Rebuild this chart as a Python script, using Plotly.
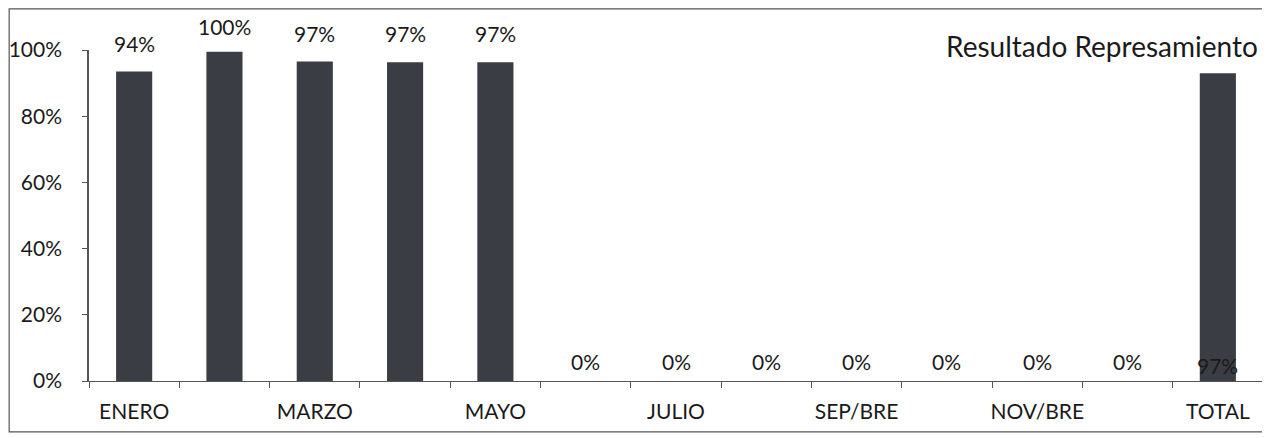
import plotly.graph_objects as go

categories = ["ENERO", "FEBRERO", "MARZO", "ABRIL", "MAYO", "JUNIO", "JULIO",
              "AGOSTO", "SEP/BRE", "OCT/BRE", "NOV/BRE", "DIC/BRE", "TOTAL"]
bar_heights = [93.5, 99.5, 96.5, 96.3, 96.3, 0, 0, 0, 0, 0, 0, 0, 93]
labels = ["94%", "100%", "97%", "97%", "97%", "0%", "0%", "0%", "0%", "0%", "0%", "0%", "97%"]
shown_ticks = ["ENERO", "MARZO", "MAYO", "JULIO", "SEP/BRE", "NOV/BRE", "TOTAL"]
y_ticks = [0, 20, 40, 60, 80, 100]
y_ticktext = ["0%", "20%", "40%", "60%", "80%", "100%"]
series_name = "Resultado Represamiento"

FONT = "Lato"
TXT = "#1a1a1a"
fig = go.Figure()
fig.add_trace(go.Bar(
    x=categories, y=bar_heights, name=series_name,
    marker=dict(color="#3a3d43", line=dict(width=0)),
    width=0.40, showlegend=False,
))

for c, h, t in zip(categories, bar_heights, labels):
    if c == "TOTAL":
        yv, ys = 0, 1
    elif h == 0:
        yv, ys = h, 5
    else:
        yv, ys = h, (11 if h >= 99 else 14)
    fig.add_annotation(x=c, y=yv, text=t, showarrow=False, yanchor="bottom",
                       yshift=ys, font=dict(family=FONT, size=21, color=TXT))

fig.add_annotation(xref="paper", yref="paper", x=0.9975, y=1.012, xanchor="right", yanchor="middle",
                   text=series_name, showarrow=False,
                   font=dict(family=FONT, size=28, color=TXT))

fig.add_shape(type="rect", xref="paper", yref="paper",
              x0=-0.068, x1=1.0017, y0=-0.154, y1=1.124,
              line=dict(color="#555555", width=1.2))

fig.update_layout(
    width=1262, height=430,
    margin=dict(l=81, r=7, t=42, b=57, autoexpand=False),
    paper_bgcolor="white", plot_bgcolor="white",
    font=dict(family=FONT, size=21, color=TXT),
    xaxis=dict(
        type="category", categoryorder="array", categoryarray=categories,
        tickmode="array", tickvals=categories,
        ticktext=[c if c in shown_ticks else "" for c in categories],
        tickson="boundaries", ticks="outside", ticklen=6, tickcolor="#555555",
        showline=True, linecolor="#555555", linewidth=1.2,
        showgrid=False, ticklabelstandoff=12, tickangle=0, automargin=False,
        tickfont=dict(family=FONT, size=21, color=TXT),
    ),
    yaxis=dict(
        range=[0, 100], tickmode="array", tickvals=y_ticks, ticktext=y_ticktext,
        ticks="outside", ticklen=5, tickcolor="#555555",
        showline=True, linecolor="#555555", linewidth=1.5,
        showgrid=False, zeroline=False, ticklabelstandoff=16, automargin=False,
        tickfont=dict(family=FONT, size=21, color=TXT),
    ),
)

fig.write_html("out.html")
